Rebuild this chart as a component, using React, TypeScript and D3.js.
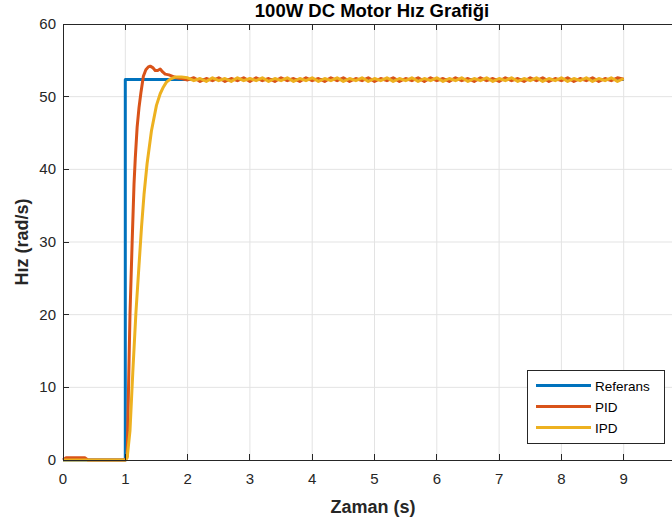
import { useEffect, useRef } from "react";
import * as d3 from "d3";

// Referans (step at t = 1 s)
const refTime = [0, 1, 1, 9];
const refSpeed = [0, 0, 52.36, 52.36];

// PID transient part
const pidTime = [0, 0.05, 0.35, 0.4, 1.0, 1.03, 1.075, 1.11, 1.14, 1.16, 1.19, 1.22, 1.25, 1.29, 1.33, 1.37, 1.4, 1.44, 1.48, 1.52, 1.56, 1.6, 1.64, 1.7, 1.76, 1.82, 1.9];
const pidSpeed = [0, 0.3, 0.3, 0, 0, 0.5, 20, 30, 38, 41.5, 45.8, 48.5, 50.5, 52.8, 53.7, 54.1, 54.2, 54.0, 53.6, 53.6, 53.8, 53.4, 53.1, 53.0, 52.8, 52.6, 52.5];

// IPD transient part
const ipdTime = [0, 1.0, 1.03, 1.075, 1.12, 1.17, 1.22, 1.26, 1.3, 1.35, 1.42, 1.5, 1.56, 1.61, 1.66, 1.72, 1.8, 1.9];
const ipdSpeed = [0, 0, 0.3, 4, 12, 20.2, 26.8, 32, 36.5, 40.8, 45.3, 48.8, 50.4, 51.3, 52.0, 52.4, 52.7, 52.7];

// steady state ripple, sampled every 0.1 s from t = 2 s to 9 s
const rippleStart = 2;
const rippleStep = 0.1;
const pidRipple = [
  52.3, 52.6, 52.1, 52.5, 52.2, 52.6, 52.1, 52.5, 52.2, 52.6,
  52.1, 52.6, 52.2, 52.5, 52.1, 52.6, 52.2, 52.5, 52.1, 52.6,
  52.2, 52.5, 52.1, 52.6, 52.2, 52.6, 52.1, 52.5, 52.2, 52.6,
  52.1, 52.5, 52.2, 52.6, 52.1, 52.5, 52.2, 52.6, 52.1, 52.6,
  52.2, 52.5, 52.1, 52.6, 52.2, 52.5, 52.1, 52.6, 52.2, 52.5,
  52.1, 52.6, 52.2, 52.5, 52.1, 52.6, 52.2, 52.6, 52.1, 52.5,
  52.2, 52.6, 52.1, 52.5, 52.2, 52.6, 52.1, 52.5, 52.2, 52.6,
  52.4,
];
const ipdRipple = [
  52.6, 52.2, 52.5, 52.1, 52.6, 52.2, 52.5, 52.1, 52.6, 52.2,
  52.5, 52.2, 52.6, 52.1, 52.5, 52.2, 52.6, 52.1, 52.5, 52.2,
  52.6, 52.1, 52.5, 52.2, 52.6, 52.1, 52.5, 52.2, 52.6, 52.1,
  52.5, 52.2, 52.6, 52.1, 52.5, 52.2, 52.6, 52.1, 52.5, 52.2,
  52.6, 52.1, 52.5, 52.2, 52.6, 52.1, 52.5, 52.2, 52.6, 52.1,
  52.5, 52.2, 52.6, 52.1, 52.5, 52.2, 52.6, 52.1, 52.5, 52.2,
  52.6, 52.1, 52.5, 52.2, 52.6, 52.1, 52.5, 52.2, 52.6, 52.1,
  52.5,
];

// x axis runs to 10 (off the right edge), labels visible up to 9
const xTicks = [0, 1, 2, 3, 4, 5, 6, 7, 8, 9, 10];
const xTickLabels = ["0", "1", "2", "3", "4", "5", "6", "7", "8", "9"];
const yTicks = [0, 10, 20, 30, 40, 50, 60];

const seriesNames = ["Referans", "PID", "IPD"];
const seriesColors = ["#0072BD", "#D95319", "#EDB120"];

const FONT = "'Liberation Sans', Arial, Helvetica, sans-serif";
const AXIS = "#262626";

const width = 672;
const height = 526;

const App = () => {
  const ref = useRef<SVGSVGElement | null>(null);

  useEffect(() => {
    const svg = d3.select(ref.current);
    svg.selectAll("*").remove();

    const x = d3.scaleLinear().domain([0, 10]).range([63, 686]);
    const y = d3.scaleLinear().domain([0, 60]).range([460, 24]);

    // white background
    svg.append("rect").attr("width", width).attr("height", height).attr("fill", "#fff");

    // grid
    const grid = svg.append("g").attr("stroke", "#e3e3e3").attr("stroke-width", 1);
    xTicks.slice(1).forEach((t) => {
      grid.append("line")
        .attr("x1", x(t)).attr("x2", x(t))
        .attr("y1", y(0)).attr("y2", y(60));
    });
    yTicks.slice(1, -1).forEach((t) => {
      grid.append("line")
        .attr("x1", x(0)).attr("x2", x(10))
        .attr("y1", y(t)).attr("y2", y(t));
    });

    // build point lists
    const refPts = refTime.map((t, i) => [t, refSpeed[i]] as [number, number]);
    const pidPts = pidTime.map((t, i) => [t, pidSpeed[i]] as [number, number])
      .concat(pidRipple.map((v, i) => [rippleStart + i * rippleStep, v] as [number, number]));
    const ipdPts = ipdTime.map((t, i) => [t, ipdSpeed[i]] as [number, number])
      .concat(ipdRipple.map((v, i) => [rippleStart + i * rippleStep, v] as [number, number]));

    const line = d3.line<[number, number]>()
      .x((d) => x(d[0]))
      .y((d) => y(d[1]));

    [refPts, pidPts, ipdPts].forEach((pts, i) => {
      svg.append("path")
        .datum(pts)
        .attr("d", line)
        .attr("fill", "none")
        .attr("stroke", seriesColors[i])
        .attr("stroke-width", 3)
        .attr("stroke-linejoin", "round");
    });

    // axes box
    const box = svg.append("g").attr("stroke", AXIS).attr("stroke-width", 1).attr("shape-rendering", "crispEdges");
    box.append("line").attr("x1", x(0)).attr("x2", x(10)).attr("y1", y(0)).attr("y2", y(0));
    box.append("line").attr("x1", x(0)).attr("x2", x(10)).attr("y1", y(60)).attr("y2", y(60));
    box.append("line").attr("x1", x(0)).attr("x2", x(0)).attr("y1", y(0)).attr("y2", y(60));
    xTicks.forEach((t) => {
      box.append("line").attr("x1", x(t)).attr("x2", x(t)).attr("y1", y(0)).attr("y2", y(0) - 6);
      box.append("line").attr("x1", x(t)).attr("x2", x(t)).attr("y1", y(60)).attr("y2", y(60) + 6);
    });
    yTicks.forEach((t) => {
      box.append("line").attr("x1", x(0)).attr("x2", x(0) + 6).attr("y1", y(t)).attr("y2", y(t));
    });

    // tick labels
    svg.append("g")
      .selectAll("text")
      .data(xTickLabels)
      .join("text")
      .attr("x", (d) => x(+d))
      .attr("y", y(0) + 24)
      .attr("text-anchor", "middle")
      .attr("font-family", FONT)
      .attr("font-size", 15)
      .attr("fill", AXIS)
      .text((d) => d);

    svg.append("g")
      .selectAll("text")
      .data(yTicks)
      .join("text")
      .attr("x", x(0) - 7)
      .attr("y", (d) => y(d) + 5)
      .attr("text-anchor", "end")
      .attr("font-family", FONT)
      .attr("font-size", 15)
      .attr("fill", AXIS)
      .text((d) => d);

    // title and axis labels
    svg.append("text")
      .attr("x", 372)
      .attr("y", 17)
      .attr("text-anchor", "middle")
      .attr("font-family", FONT)
      .attr("font-size", 18.5)
      .attr("font-weight", "bold")
      .attr("fill", "#000")
      .text("100W DC Motor Hız Grafiği");

    svg.append("text")
      .attr("x", 373)
      .attr("y", 513)
      .attr("text-anchor", "middle")
      .attr("font-family", FONT)
      .attr("font-size", 18)
      .attr("font-weight", "bold")
      .attr("fill", AXIS)
      .text("Zaman (s)");

    svg.append("text")
      .attr("transform", `translate(28,${y(30)}) rotate(-90)`)
      .attr("text-anchor", "middle")
      .attr("font-family", FONT)
      .attr("font-size", 18)
      .attr("font-weight", "bold")
      .attr("fill", AXIS)
      .text("Hız (rad/s)");

    // legend
    const lg = svg.append("g").attr("transform", "translate(527,370)");
    lg.append("rect")
      .attr("width", 137)
      .attr("height", 73)
      .attr("fill", "#fff")
      .attr("stroke", AXIS)
      .attr("stroke-width", 1)
      .attr("shape-rendering", "crispEdges");
    seriesNames.forEach((name, i) => {
      const yy = 15.5 + i * 21;
      lg.append("line")
        .attr("x1", 9).attr("x2", 64)
        .attr("y1", yy).attr("y2", yy)
        .attr("stroke", seriesColors[i])
        .attr("stroke-width", 3);
      lg.append("text")
        .attr("x", 68)
        .attr("y", yy + 5)
        .attr("font-family", FONT)
        .attr("font-size", 13.5)
        .attr("fill", "#000")
        .text(name);
    });
  }, []);

  return (
    <svg
      ref={ref}
      width={width}
      height={height}
      style={{ position: "absolute", left: 0, top: 0, display: "block" }}
    />
  );
};

export default App;
